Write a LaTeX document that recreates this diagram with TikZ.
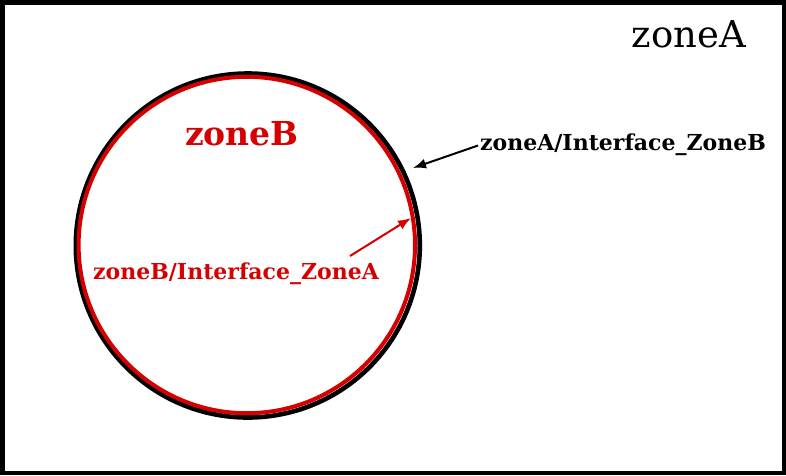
\documentclass[tikz,border=0pt]{standalone}
\usepackage{fontspec}
\setmainfont{DejaVu Serif}
\usetikzlibrary{arrows.meta}
\definecolor{zred}{RGB}{214,0,0}
\begin{document}
\begin{tikzpicture}[x=1pt,y=-1pt,
  lbl/.style={inner sep=0pt, anchor=center},
  conn/.style={line width=2pt, -{Latex[length=13pt,width=10pt]}}]
\useasboundingbox (0,0) rectangle (786,475);
\draw[line width=4.5pt] (2.25,2.25) rectangle (783.75,472.75);
\draw[line width=4.6pt] (247.8,245.5) circle[radius=172];
\draw[line width=4pt, zred] (246.8,245) circle[radius=168.2];
\coordinate (bedge) at (413,168);
\coordinate (redge) at (411,218);
\node[lbl] (zA) at (689,34) {\fontsize{37}{44}\selectfont zoneA};
\node[lbl, text=zred] (zB) at (242,134) {\fontsize{33}{40}\selectfont\bfseries zoneB};
\node[lbl, anchor=west] (iA) at (480,144.5) {\fontsize{22}{26}\selectfont\bfseries zoneA/Interface\_ZoneB};
\node[lbl, anchor=west, text=zred] (iB) at (93,274) {\fontsize{22}{26}\selectfont\bfseries zoneB/Interface\_ZoneA};
\draw[conn] (iA.west) ++(-2,1) coordinate (a0) -- (bedge);
\draw[conn, zred] (350,256) coordinate (b0) -- (redge);
\end{tikzpicture}
\end{document}
